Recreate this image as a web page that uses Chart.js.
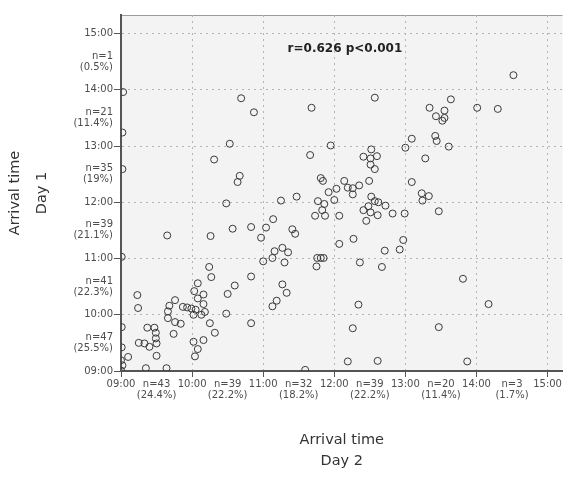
<!DOCTYPE html>
<html>
<head>
<meta charset="utf-8">
<script src="https://cdn.jsdelivr.net/npm/chart.js@4/dist/chart.umd.min.js"></script>
<style>
  html, body { margin: 0; padding: 0; background: #fff; overflow: hidden; }
  #wrap { width: 567px; height: 477px; }
</style>
</head>
<body>
<div id="wrap"><canvas id="chart"></canvas></div>
<script>
// arrival times in decimal hours
const arrivalDay2 = [
  9.03, 9.02, 9.02, 9.01, 9.01, 9.01, 9.10, 9.00, 9.02, 9.00,
  9.35, 9.64, 9.23, 9.24, 9.25, 9.33, 9.40, 9.37, 9.47, 9.49,
  9.49, 9.50, 9.50, 9.65, 9.76, 9.68, 9.66, 9.66, 9.76, 9.84,
  9.74, 9.87, 9.93, 9.99, 10.05, 10.02, 10.16, 10.18, 10.13, 10.08,
  10.03, 10.16, 10.08, 10.27, 10.24, 10.25, 10.32, 10.02, 10.08, 10.04,
  10.16, 10.48, 10.60, 10.50, 10.26, 10.57, 10.48, 10.31, 10.53, 10.69,
  10.87, 10.67, 10.64, 10.83, 11.04, 10.97, 11.14, 11.00, 11.13, 11.16,
  11.27, 11.35, 11.30, 10.83, 11.27, 11.33, 11.19, 11.13, 10.83, 11.59,
  11.25, 11.47, 11.41, 11.45, 11.77, 11.86, 12.00, 11.83, 11.73, 11.87,
  12.07, 11.76, 11.81, 11.85, 11.75, 12.07, 11.68, 11.66, 11.95, 11.81,
  11.84, 11.92, 12.03, 12.14, 12.26, 12.19, 12.26, 12.35, 12.49, 12.19,
  12.26, 12.57, 12.52, 12.41, 12.51, 12.60, 12.51, 12.57, 12.52, 12.57,
  12.62, 12.72, 12.48, 12.41, 12.51, 12.61, 12.45, 12.82, 12.99, 12.27,
  12.36, 12.71, 12.97, 12.92, 12.67, 12.34, 12.61, 13.09, 13.00, 13.09,
  13.23, 13.33, 13.24, 13.47, 13.28, 13.42, 13.44, 13.61, 13.34, 13.64,
  13.55, 13.43, 13.55, 13.52, 14.01, 14.30, 14.52, 13.81, 14.17, 13.47,
  13.87
];
const arrivalDay1 = [
  13.96, 13.24, 12.59, 11.03, 9.78, 9.42, 9.25, 9.19, 9.10, 9.01,
  9.05, 9.05, 10.35, 10.12, 9.50, 9.49, 9.43, 9.77, 9.77, 9.68,
  9.58, 9.49, 9.27, 11.41, 10.26, 10.16, 10.06, 9.94, 9.87, 9.84,
  9.66, 10.14, 10.13, 10.11, 10.09, 10.00, 10.19, 10.05, 10.00, 10.56,
  10.42, 10.36, 10.29, 10.67, 10.85, 9.85, 9.68, 9.52, 9.39, 9.26,
  9.55, 10.02, 10.52, 10.37, 11.40, 11.53, 11.98, 12.76, 13.04, 13.85,
  13.60, 12.47, 12.36, 11.56, 11.55, 11.37, 11.70, 10.95, 11.01, 11.13,
  11.19, 11.11, 10.93, 10.68, 10.54, 10.39, 10.25, 10.15, 9.85, 9.02,
  12.03, 12.10, 11.52, 11.44, 12.02, 11.97, 12.04, 11.86, 11.76, 11.76,
  11.76, 11.01, 11.01, 11.01, 10.86, 11.26, 13.68, 12.84, 13.01, 12.43,
  12.38, 12.18, 12.24, 12.38, 12.25, 12.26, 12.14, 12.30, 12.38, 9.17,
  9.76, 13.86, 12.94, 12.81, 12.78, 12.82, 12.67, 12.59, 12.10, 12.02,
  12.00, 11.94, 11.93, 11.86, 11.82, 11.77, 11.67, 11.80, 11.80, 11.35,
  10.93, 11.14, 11.33, 11.16, 10.85, 10.18, 9.18, 12.36, 12.97, 13.13,
  12.16, 12.11, 12.03, 11.84, 12.78, 13.18, 13.09, 12.99, 13.68, 13.83,
  13.63, 13.53, 13.50, 13.45, 13.68, 13.66, 14.26, 10.64, 10.19, 9.78,
  9.17
];

const tickValues = [9, 9.5, 10, 10.5, 11, 11.5, 12, 12.5, 13, 13.5, 14, 14.5, 15];
const hourLabels = ["09:00", "10:00", "11:00", "12:00", "13:00", "14:00", "15:00"];
const day1Counts = ["n=47", "n=41", "n=39", "n=35", "n=21", "n=1"];
const day1Percents = ["(25.5%)", "(22.3%)", "(21.1%)", "(19%)", "(11.4%)", "(0.5%)"];
const day2Counts = ["n=43", "n=39", "n=32", "n=39", "n=20", "n=3"];
const day2Percents = ["(24.4%)", "(22.2%)", "(18.2%)", "(22.2%)", "(11.4%)", "(1.7%)"];
const correlationText = "r=0.626 p<0.001";

const TEXT_COLOR = "#4d4d4d";
const GRID_COLOR = "#b4b4b4";
const AXIS_COLOR = "#555";

const isHour = (v) => Number.isInteger(v);

const getTickLabel = (counts, percents) => (v) => {
  if (isHour(v)) return hourLabels[v - 9];
  const i = Math.floor(v) - 9;
  return [counts[i], percents[i]];
};

const setTicks = (scale) => {
  scale.ticks = tickValues.map((value) => ({ value }));
};

const gridColor = (ctx) =>
  ctx.tick && isHour(ctx.tick.value) && ctx.tick.value !== 9 ? GRID_COLOR : "rgba(0,0,0,0)";
const tickColor = (ctx) =>
  ctx.tick && isHour(ctx.tick.value) ? AXIS_COLOR : "rgba(0,0,0,0)";

const plotFrame = {
  id: "plotFrame",
  beforeDraw(chart) {
    const { ctx, chartArea: { left, top, right, bottom } } = chart;
    ctx.save();
    ctx.fillStyle = "#f3f3f3";
    ctx.fillRect(left, top, right - left, bottom - top);
    ctx.strokeStyle = "#9a9a9a";
    ctx.lineWidth = 1;
    ctx.beginPath();
    ctx.moveTo(left, top + 0.5);
    ctx.lineTo(right, top + 0.5);
    ctx.stroke();
    ctx.restore();
  },
  afterDatasetsDraw(chart) {
    const { ctx, scales: { x, y } } = chart;
    ctx.save();
    ctx.font = "bold 12px 'DejaVu Sans'";
    ctx.fillStyle = "#222";
    ctx.textAlign = "center";
    ctx.textBaseline = "middle";
    ctx.fillText(correlationText, x.getPixelForValue(12.15), y.getPixelForValue(14.72));
    ctx.restore();
  },
};

new Chart(document.getElementById("chart"), {
  type: "scatter",
  plugins: [plotFrame],
  data: {
    datasets: [
      {
        data: arrivalDay2.map((x, i) => ({ x, y: arrivalDay1[i] })),
        pointRadius: 3.5,
        pointHoverRadius: 3.5,
        pointBorderWidth: 1,
        pointBorderColor: "#3a3a3a",
        pointBackgroundColor: "rgba(0,0,0,0)",
        clip: 0,
      },
    ],
  },
  options: {
    responsive: true,
    maintainAspectRatio: false,
    animation: false,
    layout: { padding: { top: 15, left: 0, right: 0, bottom: 0 } },
    plugins: {
      legend: { display: false },
      tooltip: { enabled: false },
    },
    scales: {
      x: {
        type: "linear",
        min: 9,
        max: 15.21,
        afterBuildTicks: setTicks,
        afterFit: (scale) => { scale.height = 106; },
        grid: { color: gridColor, tickColor, tickLength: 6, lineWidth: 1 },
        border: { color: AXIS_COLOR, width: 2, dash: [2, 4] },
        ticks: {
          autoSkip: false,
          maxRotation: 0,
          minRotation: 0,
          padding: 2,
          color: TEXT_COLOR,
          font: { family: "DejaVu Sans", size: 10, lineHeight: 1.1 },
          callback: getTickLabel(day2Counts, day2Percents),
        },
        title: {
          display: true,
          text: ["Arrival time", "Day 2"],
          color: "#333",
          font: { family: "DejaVu Sans", size: 14.5, lineHeight: 1.45 },
          padding: { top: 0, bottom: 5 },
        },
      },
      y: {
        type: "linear",
        min: 9,
        max: 15.33,
        afterBuildTicks: setTicks,
        afterFit: (scale) => { scale.width = 121; },
        grid: { color: gridColor, tickColor, tickLength: 7, lineWidth: 1 },
        border: { color: AXIS_COLOR, width: 2, dash: [2, 4] },
        ticks: {
          autoSkip: false,
          padding: 1,
          color: TEXT_COLOR,
          font: { family: "DejaVu Sans", size: 10, lineHeight: 1.1 },
          callback: getTickLabel(day1Counts, day1Percents),
        },
        title: {
          display: true,
          text: ["Arrival time", "Day 1"],
          color: "#333",
          font: { family: "DejaVu Sans", size: 14.5, lineHeight: 1.9 },
          padding: { top: 1, bottom: 0 },
        },
      },
    },
  },
});
</script>
</body>
</html>
